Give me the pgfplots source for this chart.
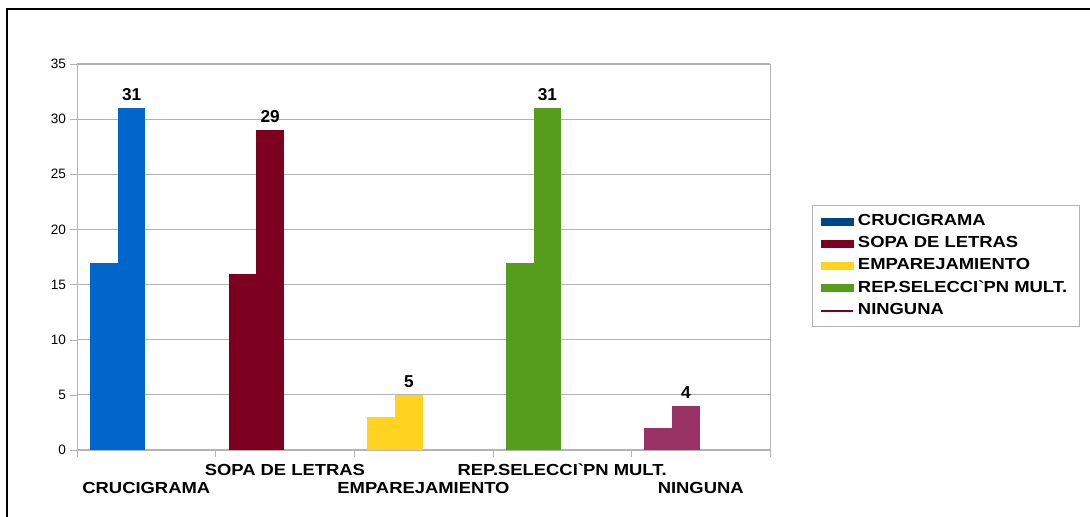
\documentclass[border=0pt]{standalone}
\usepackage{fontspec}
\setmainfont{Liberation Sans}
\newfontfamily\wide{Liberation Sans}[FakeStretch=1.15]
\usepackage{pgfplots}
\pgfplotsset{compat=1.18}

\definecolor{cblue}{HTML}{0066CC}
\definecolor{cmaroon}{HTML}{7E0021}
\definecolor{cyellow}{HTML}{FFD320}
\definecolor{cgreen}{HTML}{579D1C}
\definecolor{cpurple}{HTML}{993366}
\definecolor{legblue}{HTML}{004586}
\definecolor{axgray}{HTML}{B3B3B3}

\begin{document}
\begin{tikzpicture}
% page frame, measured from the axis' lower left corner
\useasboundingbox (-38.5pt,-33.5pt) rectangle (506.5pt,225pt);
\draw[line width=1pt] (-35pt,-33.5pt) -- (-35pt,220.5pt) -- (506.5pt,220.5pt);
\begin{axis}[
  anchor=south west,
  scale only axis, width=346.5pt, height=193pt,
  xmin=0, xmax=5, ymin=0, ymax=35,
  ytick={0,5,...,35},
  xtick={0,1,2,3,4,5},
  x tick label as interval,
  xticklabels={\raisebox{-9pt}{CRUCIGRAMA},SOPA DE LETRAS,\raisebox{-9pt}{EMPAREJAMIENTO},REP.SELECCI\textasciigrave PN MULT.,\raisebox{-9pt}{NINGUNA}},
  xticklabel style={font=\wide\bfseries\fontsize{8}{9}\selectfont, text height=0pt, text depth=0pt, inner sep=0pt, anchor=north, yshift=-8.5pt},
  yticklabel style={font=\fontsize{6.8}{8}\selectfont, xshift=1.5pt},
  /pgf/number format/assume math mode=true,
  tick pos=left,
  tick align=outside, major tick length=3.5pt,
  tick style={axgray},
  axis line style={axgray},
  ymajorgrids, grid style={axgray, line width=0.5pt},
  ybar, bar width=0.2,
  nodes near coords style={font=\bfseries\fontsize{8.6}{10}\selectfont, black},
  legend style={at={(1.0606,0.6347)}, anchor=north west, draw=axgray,
    font=\wide\bfseries\fontsize{8}{9}\selectfont, row sep=0pt,
    inner xsep=4pt, inner ysep=2.5pt,
    cells={anchor=west}},
]
\addlegendimage{legend image code/.code={\fill[legblue] (0pt,-1.75pt) rectangle (16pt,1.75pt);}}
\addlegendentry{CRUCIGRAMA}
\addlegendimage{legend image code/.code={\fill[cmaroon] (0pt,-1.75pt) rectangle (16pt,1.75pt);}}
\addlegendentry{SOPA DE LETRAS}
\addlegendimage{legend image code/.code={\fill[cyellow] (0pt,-1.75pt) rectangle (16pt,1.75pt);}}
\addlegendentry{EMPAREJAMIENTO}
\addlegendimage{legend image code/.code={\fill[cgreen] (0pt,-1.75pt) rectangle (16pt,1.75pt);}}
\addlegendentry{REP.SELECCI\textasciigrave PN MULT.}
\addlegendimage{legend image code/.code={\draw[cmaroon, line width=0.8pt] (0pt,0pt) -- (16pt,0pt);}}
\addlegendentry{NINGUNA}

% first bar of each pair (no value label)
\addplot[fill=cblue, draw=none, bar shift=0pt, forget plot] coordinates {(0.194,17)};
\addplot[fill=cmaroon, draw=none, bar shift=0pt, forget plot] coordinates {(1.194,16)};
\addplot[fill=cyellow, draw=none, bar shift=0pt, forget plot] coordinates {(2.194,3)};
\addplot[fill=cgreen, draw=none, bar shift=0pt, forget plot] coordinates {(3.194,17)};
\addplot[fill=cpurple, draw=none, bar shift=0pt, forget plot] coordinates {(4.194,2)};
% second bar of each pair (labelled)
\addplot[fill=cblue, draw=none, bar shift=0pt, forget plot, nodes near coords] coordinates {(0.394,31)};
\addplot[fill=cmaroon, draw=none, bar shift=0pt, forget plot, nodes near coords] coordinates {(1.394,29)};
\addplot[fill=cyellow, draw=none, bar shift=0pt, forget plot, nodes near coords] coordinates {(2.394,5)};
\addplot[fill=cgreen, draw=none, bar shift=0pt, forget plot, nodes near coords] coordinates {(3.394,31)};
\addplot[fill=cpurple, draw=none, bar shift=0pt, forget plot, nodes near coords] coordinates {(4.394,4)};
\end{axis}
\end{tikzpicture}
\end{document}
